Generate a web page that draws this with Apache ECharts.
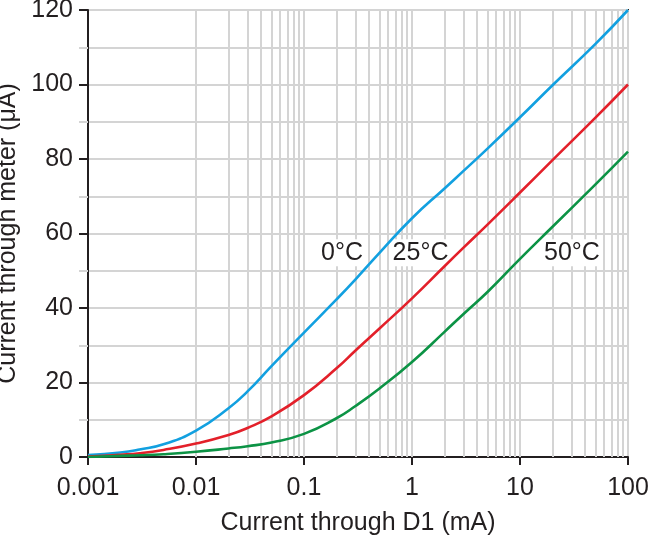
<!DOCTYPE html>
<html><head><meta charset="utf-8">
<script src="https://cdn.jsdelivr.net/npm/echarts@6/dist/echarts.min.js"></script>
<style>html,body{margin:0;padding:0;background:#fff}#c{width:650px;height:536px}</style>
</head><body><div id="c"></div>
<script>
const currentD1 = [0.001, 0.002, 0.003, 0.005, 0.01, 0.02, 0.03, 0.05, 0.1, 0.2, 0.3, 0.5, 1, 2, 3, 5, 10, 20, 50, 100];
const meter0C  = [0.5, 1.2, 2.0, 3.4, 7.1, 13.1, 17.6, 24.4, 33.4, 42.3, 47.7, 54.8, 64.1, 72.1, 76.8, 82.8, 91.2, 99.8, 110.9, 120];
const meter25C = [0.1, 0.6, 1.0, 1.9, 3.6, 5.9, 7.8, 10.9, 16.6, 23.8, 28.6, 34.5, 42.6, 51.2, 56.2, 62.4, 71.0, 79.7, 91.1, 100];
const meter50C = [0.0, 0.3, 0.45, 0.75, 1.4, 2.3, 2.9, 3.9, 6.2, 10.4, 13.7, 18.4, 25.5, 33.6, 38.4, 44.3, 53.2, 61.8, 73.2, 82];
const xTicks = [0.001, 0.01, 0.1, 1, 10, 100];
const yTicks = [0, 20, 40, 60, 80, 100, 120];
const seriesNames = ['0°C', '25°C', '50°C'];
const seriesColors = ['#12a0e0', '#e3202a', '#0c9345'];
const labelPos = [[0.225, 54.8], [1.2, 54.8], [30.3, 54.8]];

const minorX = [];
for (let d = 0; d < xTicks.length - 1; d++) {
  for (let k = 1; k <= 9; k++) {
    const v = +(xTicks[d] * k).toPrecision(3);
    if (v > xTicks[0] && v < xTicks[xTicks.length-1]) minorX.push(v);
  }
}

const font = '"Liberation Sans", Arial, sans-serif';
const textCol = '#231f20';
const gridCol = '#d4d4d4';
const chart = echarts.init(document.getElementById('c'));
const toPairs = arr => currentD1.map((x, i) => [x, arr[i]]);

const series = [
  {
    type: 'line', data: [], silent: true, z: 1,
    markLine: {
      silent: true, symbol: ['none', 'none'], animation: false,
      label: {show: false},
      lineStyle: {color: gridCol, width: 2, type: 'solid'},
      data: minorX.map(v => ({xAxis: v}))
    }
  }
];
[meter0C, meter25C, meter50C].forEach((arr, i) => {
  series.push({
    name: seriesNames[i], type: 'line', data: toPairs(arr), smooth: 0.5,
    showSymbol: false, z: 5, lineStyle: {color: seriesColors[i], width: 2.6},
    itemStyle: {color: seriesColors[i]},
    markPoint: {
      symbol: 'rect', symbolSize: 1, silent: true, animation: false,
      itemStyle: {color: 'rgba(0,0,0,0)'},
      label: {
        show: true, position: 'inside', formatter: seriesNames[i],
        color: textCol, fontSize: 25, fontFamily: font,
        backgroundColor: '#fff', padding: [2, 3, 0, 3]
      },
      data: [{coord: labelPos[i]}]
    }
  });
});

chart.setOption({
  animation: false,
  backgroundColor: '#fff',
  grid: {left: 88, right: 22, top: 10, bottom: 79, show: true, containLabel: false,
         outerBoundsMode: 'none',
         borderColor: textCol, borderWidth: 2, backgroundColor: 'transparent'},
  xAxis: {
    type: 'log', logBase: 10, min: xTicks[0], max: xTicks[xTicks.length-1],
    name: 'Current through D1 (mA)', nameLocation: 'middle', nameGap: 54,
    nameTextStyle: {fontSize: 25, color: textCol, fontFamily: font},
    axisLine: {lineStyle: {color: textCol, width: 2}},
    axisTick: {show: true, inside: false, length: 8, lineStyle: {color: textCol, width: 2}},
    axisLabel: {fontSize: 25, color: textCol, fontFamily: font, margin: 19,
                formatter: v => String(+(+v).toPrecision(3))},
    splitLine: {show: true, lineStyle: {color: gridCol, width: 2}},
    minorTick: {show: false}, minorSplitLine: {show: false}
  },
  yAxis: {
    type: 'value', min: yTicks[0], max: yTicks[yTicks.length-1], interval: 20,
    name: 'Current through meter (μA)', nameLocation: 'middle', nameGap: 62,
    nameTextStyle: {fontSize: 25, color: textCol, fontFamily: font},
    axisLine: {show: true, lineStyle: {color: textCol, width: 2}},
    axisTick: {show: true, inside: false, length: 9, lineStyle: {color: textCol, width: 2}},
    axisLabel: {fontSize: 25, color: textCol, fontFamily: font, margin: 15},
    splitLine: {show: true, lineStyle: {color: gridCol, width: 2}},
    minorTick: {show: true, splitNumber: 2, length: 9, lineStyle: {color: gridCol, width: 2}},
    minorSplitLine: {show: true, lineStyle: {color: gridCol, width: 2}}
  },
  series: series
});
</script></body></html>
